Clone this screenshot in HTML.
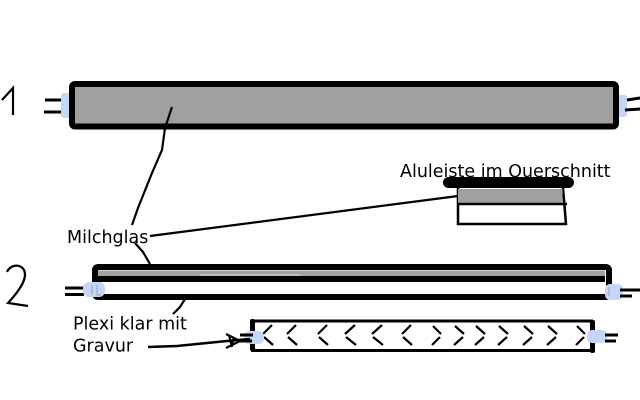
<!DOCTYPE html>
<html><head><meta charset="utf-8"><style>
html,body{margin:0;padding:0;background:#fff;width:640px;height:400px;overflow:hidden}
svg{display:block}
text{font-family:"DejaVu Sans","Liberation Sans",sans-serif;font-size:17.5px;fill:#000}
</style></head><body>
<svg width="640" height="400" viewBox="0 0 640 400" xmlns="http://www.w3.org/2000/svg">
<rect width="640" height="400" fill="#fff"/>

<!-- "1" -->
<path d="M2 100 L13 88 L13 115" fill="none" stroke="#000" stroke-width="2.2"/>
<!-- = left bar1 -->
<path d="M45 100 H68 M44 112 H67" stroke="#000" stroke-width="3"/>
<!-- blue connectors bar1 -->
<rect x="61" y="93" width="12" height="25" rx="3" fill="#c5d6f7"/>
<rect x="617" y="95" width="10" height="22" rx="3" fill="#c5d6f7"/>
<path d="M627 100 L640 98 M625 110 L640 109" stroke="#000" stroke-width="3"/>
<!-- bar 1 -->
<rect x="72" y="84" width="544" height="42.5" rx="3" fill="#a0a0a0" stroke="#000" stroke-width="6"/>

<!-- Milchglas leader lines -->
<polyline points="172,107 165,128 162,150 152,173 138,208 132,225" fill="none" stroke="#000" stroke-width="2.2"/>
<polyline points="135,243 143,252 150,264" fill="none" stroke="#000" stroke-width="2.2"/>
<line x1="150" y1="236" x2="458" y2="196" stroke="#000" stroke-width="2.2"/>
<text x="67" y="243">Milchglas</text>

<!-- Alu cross-section -->
<text x="400" y="177">Aluleiste im Querschnitt</text>
<path d="M458 188 V224 H566 L563 188" fill="#fff" stroke="#000" stroke-width="2.5"/>
<rect x="458" y="189" width="104.5" height="14.5" fill="#a0a0a0"/>
<line x1="458" y1="204" x2="567" y2="204" stroke="#000" stroke-width="2.5"/>
<rect x="443" y="177" width="131" height="11" rx="5.5" fill="#000"/>

<!-- "2" -->
<path d="M7 272 C10 265 20 263 24 270 C28 278 20 290 8 303 L28 306" fill="none" stroke="#000" stroke-width="2.2"/>
<!-- bar 2 -->
<path d="M65 288 H84 M65 294.5 H84" stroke="#000" stroke-width="3"/>
<rect x="95" y="267" width="514" height="30" rx="3" fill="#fff" stroke="#000" stroke-width="6"/>
<rect x="98" y="270.5" width="507" height="5.5" fill="#a2a2a2"/>
<rect x="200" y="274.5" width="100" height="1" fill="#d8d8d8"/>
<rect x="98" y="276" width="507" height="6" fill="#000"/>
<rect x="83" y="282" width="22" height="15" rx="6" fill="#c5d6f7"/>
<path d="M92 285 V295 M97 285 V295 H101" stroke="#9aa3b5" stroke-width="1" fill="none"/>
<rect x="605" y="284" width="18" height="16" rx="5" fill="#c5d6f7"/>
<path d="M609 287 V296" stroke="#9aa3b5" stroke-width="1"/>
<path d="M620 290 H640 M620 296 H632" stroke="#000" stroke-width="3"/>

<!-- Plexi leader -->
<polyline points="185,299 180,307 173,314" fill="none" stroke="#000" stroke-width="2.2"/>
<text x="73" y="329.5">Plexi klar mit</text>
<text x="73" y="351.5">Gravur</text>

<!-- bar 3 -->
<rect x="252.5" y="321" width="339" height="29.5" fill="#fff" stroke="#000" stroke-width="3"/>
<rect x="250" y="319" width="5" height="32" rx="2" fill="#000"/>
<rect x="590" y="320" width="5" height="33" rx="2" fill="#000"/>
<g stroke="#000" stroke-width="2.2" fill="none">
<path d="M272 325 L263 334 M264 337 L273 345"/>
<path d="M296 325 L287 334 M288 337 L297 345"/>
<path d="M327 325 L318 334 M319 337 L328 345"/>
<path d="M355 325 L345 334 M346 337 L356 345"/>
<path d="M382 325 L372 334 M373 337 L383 345"/>
<path d="M411 325 L402 334 M403 337 L412 345"/>
<path d="M433 326 L441 334 M440 337 L432 345"/>
<path d="M455 326 L464 334 M463 337 L454 345"/>
<path d="M476 326 L485 334 M484 337 L475 345"/>
<path d="M499 326 L508 334 M507 337 L498 345"/>
<path d="M524 326 L533 334 M532 337 L523 345"/>
<path d="M548 326 L557 334 M556 337 L547 345"/>
<path d="M577 326 L585 334 M584 337 L576 345"/>
</g>
<rect x="244" y="331" width="20" height="13" rx="5" fill="#c5d6f7"/>
<rect x="587" y="330" width="20" height="13" rx="5" fill="#c5d6f7"/>
<path d="M240 335 H253 M240 341 H252" stroke="#000" stroke-width="3"/>
<path d="M605 335 H618 M605 341 H616" stroke="#000" stroke-width="3"/>

<!-- Gravur arrow -->
<polyline points="148,347 177,346 227,341 250,339" fill="none" stroke="#000" stroke-width="2.5"/>
<path d="M226 334 L240 341 L226 348 M229 335 L232 347 M234 337 L232 345" fill="none" stroke="#000" stroke-width="2.2"/>
</svg>
</body></html>
